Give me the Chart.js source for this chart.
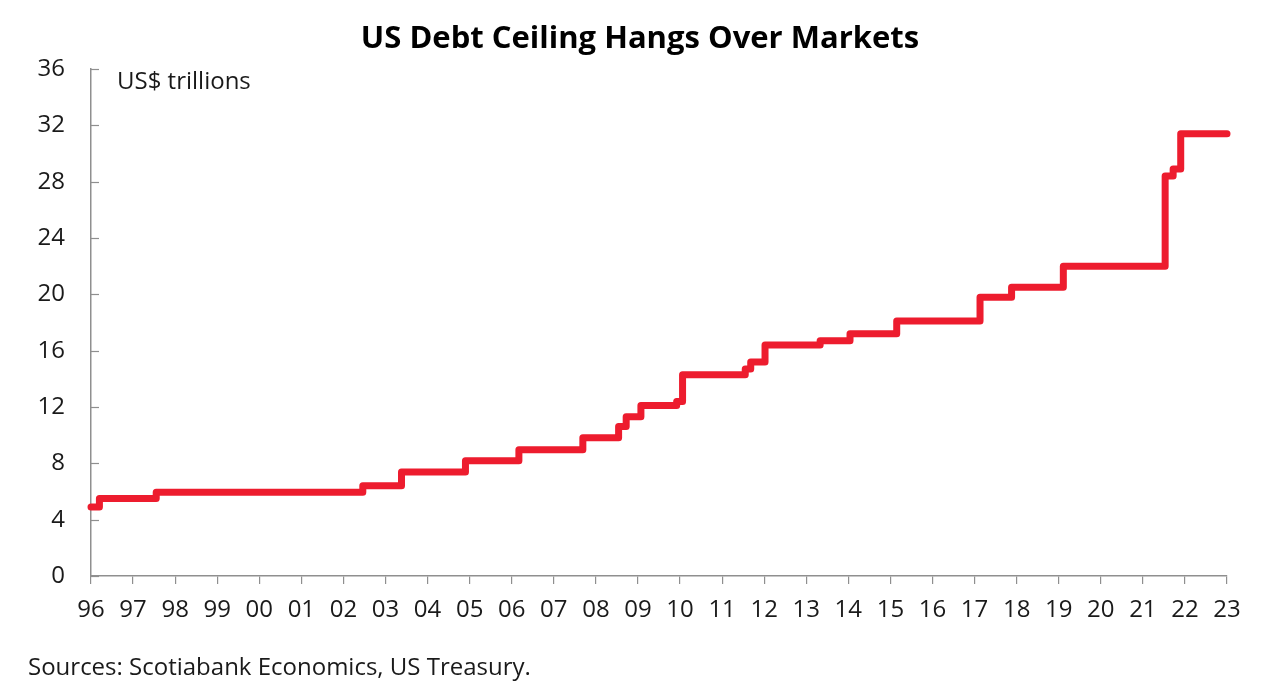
<!DOCTYPE html>
<html>
<head>
<meta charset="utf-8">
<script src="https://cdn.jsdelivr.net/npm/chart.js@4"></script>
<style>
  html, body { margin: 0; padding: 0; background: #fff; }
  #wrap { width: 1280px; height: 699px; }
</style>
</head>
<body>
<div id="wrap"><canvas id="debtChart" width="1280" height="699"></canvas></div>
<script>
// Debt limit changes: date (decimal year) and new ceiling, US$ trillions
const changeDates = [1996.0, 1996.2, 1997.55, 2002.46, 2003.38, 2004.9, 2006.17, 2007.69,
  2008.54, 2008.72, 2009.07, 2009.92, 2010.06, 2011.55, 2011.68, 2012.02,
  2013.33, 2014.04, 2015.15, 2017.13, 2017.88, 2019.11, 2021.53, 2021.72, 2021.9, 2023.0];
const ceilingValues = [4.9, 5.5, 5.95, 6.4, 7.384, 8.184, 8.965, 9.815,
  10.615, 11.315, 12.104, 12.394, 14.294, 14.694, 15.194, 16.394,
  16.699, 17.2, 18.1, 19.8, 20.5, 22.0, 28.4, 28.9, 31.4, 31.4];
const yTicks = [0, 4, 8, 12, 16, 20, 24, 28, 32, 36];
const xMin = 1996, xMax = 2023;

const FONT = '"Open Sans", Lato, sans-serif';
const AXIS_GREY = '#8f8f8f';

// title, inward ticks on the y axis, unit label and source note
const extrasPlugin = {
    id: 'extras',
    afterDraw(chart) {
        const ctx = chart.ctx;
        const y = chart.scales.y;
        const area = chart.chartArea;
        ctx.save();
        ctx.strokeStyle = AXIS_GREY;
        ctx.lineWidth = 1.2;
        yTicks.forEach(v => {
            const py = Math.round(y.getPixelForValue(v)) + 0.5;
            ctx.beginPath();
            ctx.moveTo(area.left, py);
            ctx.lineTo(area.left + 8, py);
            ctx.stroke();
        });
        ctx.textBaseline = 'middle';
        ctx.fillStyle = '#000';
        ctx.font = 'bold 31px ' + FONT;
        ctx.textAlign = 'center';
        ctx.fillText('US Debt Ceiling Hangs Over Markets', chart.width / 2, 39);
        ctx.fillStyle = '#1a1a1a';
        ctx.font = '24px ' + FONT;
        ctx.textAlign = 'left';
        ctx.fillText('US$ trillions', area.left + 26, area.top + 13);
        ctx.fillText('Sources: Scotiabank Economics, US Treasury.', 28, 668);
        ctx.restore();
    }
};

const points = changeDates.map((d, i) => ({ x: d, y: ceilingValues[i] }));

new Chart(document.getElementById('debtChart'), {
    type: 'line',
    data: {
        datasets: [{
            data: points,
            stepped: 'before',
            borderColor: '#ED1C2E',
            borderWidth: 7,
            borderJoinStyle: 'round',
            borderCapStyle: 'round',
            pointRadius: 0,
            fill: false,
            clip: false
        }]
    },
    options: {
        responsive: false,
        animation: false,
        devicePixelRatio: 1,
        layout: { padding: { left: 28, right: 53, top: 69, bottom: 77 } },
        plugins: {
            legend: { display: false },
            tooltip: { enabled: false },
            title: { display: false }
        },
        scales: {
            x: {
                type: 'linear',
                min: xMin,
                max: xMax,
                grid: { drawOnChartArea: false, tickLength: 8, color: AXIS_GREY, lineWidth: 1.2 },
                border: { color: AXIS_GREY, width: 1.5 },
                ticks: {
                    stepSize: 1,
                    autoSkip: false,
                    maxRotation: 0,
                    padding: 12,
                    color: '#1a1a1a',
                    font: { family: FONT, size: 24 },
                    callback: v => String(v % 100).padStart(2, '0')
                },
                afterBuildTicks: scale => {
                    scale.ticks = [];
                    for (let yr = xMin; yr <= xMax; yr++) scale.ticks.push({ value: yr });
                },
                afterFit: scale => { scale.height = 46; }
            },
            y: {
                min: 0,
                max: 36,
                grid: { display: false, drawTicks: false },
                border: { color: AXIS_GREY, width: 1.5 },
                ticks: {
                    stepSize: 4,
                    padding: 26,
                    color: '#1a1a1a',
                    font: { family: FONT, size: 24 }
                },
                afterFit: scale => { scale.width = 63; }
            }
        }
    },
    plugins: [extrasPlugin]
});
</script>
</body>
</html>
